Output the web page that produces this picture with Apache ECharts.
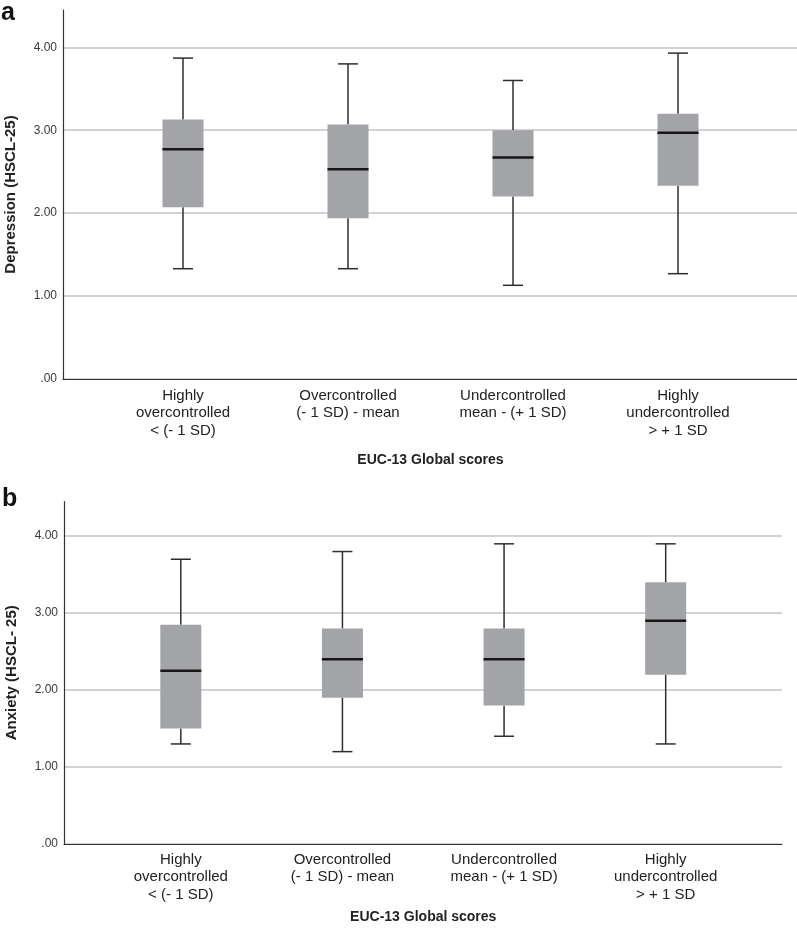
<!DOCTYPE html>
<html>
<head>
<meta charset="utf-8">
<script src="https://cdn.jsdelivr.net/npm/echarts@6/dist/echarts.min.js"></script>
<style>
html,body{margin:0;padding:0;background:#fff;}
#chart{width:797px;height:934px;}
</style>
</head>
<body>
<div id="chart"></div>
<script>
// ---- data ----
const categories = [
  "Highly\novercontrolled\n< (- 1 SD)",
  "Overcontrolled\n(- 1 SD) - mean",
  "Undercontrolled\nmean - (+ 1 SD)",
  "Highly\nundercontrolled\n> + 1 SD"
];
const yTicks = [0, 1, 2, 3, 4];

// Panel a: Depression (HSCL-25)
const depLow  = [1.33, 1.33, 1.13, 1.27];
const depQ1   = [2.07, 1.94, 2.20, 2.33];
const depMed  = [2.77, 2.53, 2.67, 2.97];
const depQ3   = [3.13, 3.07, 3.00, 3.20];
const depHigh = [3.87, 3.80, 3.60, 3.93];

// Panel b: Anxiety (HSCL- 25)
const anxLow  = [1.30, 1.20, 1.40, 1.30];
const anxQ1   = [1.50, 1.90, 1.80, 2.20];
const anxMed  = [2.25, 2.40, 2.40, 2.90];
const anxQ3   = [2.85, 2.80, 2.80, 3.40];
const anxHigh = [3.70, 3.80, 3.90, 3.90];

const xTitle = "EUC-13 Global scores";
const yTitleA = "Depression (HSCL-25)";
const yTitleB = "Anxiety (HSCL- 25)";

// ---- build ----
function rows(lo, q1, md, q3, hi) {
  return categories.map((c, i) => [i, lo[i], q1[i], md[i], q3[i], hi[i]]);
}
const AX_MAX = 4.45;
const FONT = "'Liberation Sans', Arial, sans-serif";

function renderBox(params, api) {
  const i = api.value(0);
  const yLo = api.coord([i, api.value(1)])[1];
  const yQ1 = api.coord([i, api.value(2)])[1];
  const yMd = api.coord([i, api.value(3)])[1];
  const yQ3 = api.coord([i, api.value(4)])[1];
  const yHi = api.coord([i, api.value(5)])[1];
  const x = api.coord([i, api.value(3)])[0];
  const hb = 20.5, hc = 10;
  const wStyle = {stroke: '#2e2e2e', lineWidth: 1.5, fill: null};
  return {
    type: 'group',
    children: [
      {type: 'line', shape: {x1: x, y1: yHi, x2: x, y2: yQ3}, style: wStyle},
      {type: 'line', shape: {x1: x, y1: yQ1, x2: x, y2: yLo}, style: wStyle},
      {type: 'line', shape: {x1: x - hc, y1: yHi, x2: x + hc, y2: yHi}, style: wStyle},
      {type: 'line', shape: {x1: x - hc, y1: yLo, x2: x + hc, y2: yLo}, style: wStyle},
      {type: 'rect', shape: {x: x - hb, y: yQ3, width: hb * 2, height: yQ1 - yQ3}, style: {fill: '#a3a4a8', stroke: null}},
      {type: 'line', shape: {x1: x - hb, y1: yMd, x2: x + hb, y2: yMd}, style: {stroke: '#161616', lineWidth: 2.5}}
    ]
  };
}

function panel(gi, frame, ticks, box, yName, labelMargin, nameGap, data) {
  const grids = [frame, ticks, box].map(g => Object.assign({outerBoundsMode: 'none', containLabel: false}, g));
  const xAxes = [
    {gridIndex: gi, type: 'value', min: 0, max: 1, axisLine: {show: true, lineStyle: {color: '#333', width: 1.2}},
     axisTick: {show: false}, axisLabel: {show: false}, splitLine: {show: false}, z: 5},
    {gridIndex: gi + 1, type: 'value', min: 0, max: 1, show: false},
    {gridIndex: gi + 2, type: 'category', data: categories, boundaryGap: true,
     axisLine: {show: false}, axisTick: {show: false},
     axisLabel: {fontSize: 15, lineHeight: 17.5, color: '#222', fontFamily: FONT, margin: labelMargin, interval: 0},
     name: xTitle, nameLocation: 'middle', nameGap: nameGap,
     nameTextStyle: {fontSize: 14, fontWeight: 'bold', color: '#222', fontFamily: FONT, verticalAlign: 'middle'}}
  ];
  const yAxes = [
    {gridIndex: gi, type: 'value', min: 0, max: AX_MAX,
     axisLine: {show: true, lineStyle: {color: '#333', width: 1.2}}, axisTick: {show: false},
     axisLabel: {show: false}, splitLine: {show: false}, z: 5,
     name: yName, nameLocation: 'middle', nameGap: 52, nameRotate: 90,
     nameTextStyle: {fontSize: 15, fontWeight: 'bold', color: '#222', fontFamily: FONT, verticalAlign: 'middle'}},
    {gridIndex: gi + 1, type: 'value', min: yTicks[0], max: yTicks[yTicks.length - 1], interval: 1,
     axisLine: {show: false}, axisTick: {show: false},
     axisLabel: {fontSize: 12, color: '#3a3a3a', fontFamily: FONT, margin: 6,
       formatter: v => v === 0 ? '.00' : v.toFixed(2)},
     splitLine: {show: true, lineStyle: {color: '#c4c4c4', width: 1.5}}},
    {gridIndex: gi + 2, type: 'value', min: 0, max: AX_MAX, show: false}
  ];
  const series = [{
    type: 'custom', xAxisIndex: gi + 2, yAxisIndex: gi + 2,
    renderItem: renderBox, encode: {x: 0, y: [1, 2, 3, 4, 5]}, data: data, z: 3
  }];
  return {grids, xAxes, yAxes, series};
}

// Panel a geometry
const pA = panel(0,
  {left: 63, right: 0, top: 10, height: 369},
  {left: 63, right: 0, top: 379 - 4 * 369 / AX_MAX, height: 4 * 369 / AX_MAX},
  {left: 100.5, right: 36.5, top: 10, height: 369},
  yTitleA, 8, 81, rows(depLow, depQ1, depMed, depQ3, depHigh));
// Panel b geometry
const pB = panel(3,
  {left: 64, right: 15, top: 501.5, height: 342.5},
  {left: 64, right: 15, top: 844 - 4 * 342.5 / AX_MAX, height: 4 * 342.5 / AX_MAX},
  {left: 100, right: 50.5, top: 501.5, height: 342.5},
  yTitleB, 7, 73, rows(anxLow, anxQ1, anxMed, anxQ3, anxHigh));

const option = {
  animation: false,
  backgroundColor: '#fff',
  grid: pA.grids.concat(pB.grids),
  xAxis: pA.xAxes.concat(pB.xAxes),
  yAxis: pA.yAxes.concat(pB.yAxes),
  series: pA.series.concat(pB.series),
  graphic: [
    {type: 'text', left: 1, top: 1, style: {text: 'a', font: "bold 25px 'Liberation Sans', Arial, sans-serif", fill: '#111'}},
    {type: 'text', left: 2, top: 487, style: {text: 'b', font: "bold 25px 'Liberation Sans', Arial, sans-serif", fill: '#111'}}
  ]
};
const chart = echarts.init(document.getElementById('chart'), null, {renderer: 'canvas'});
chart.setOption(option);
</script>
</body>
</html>
